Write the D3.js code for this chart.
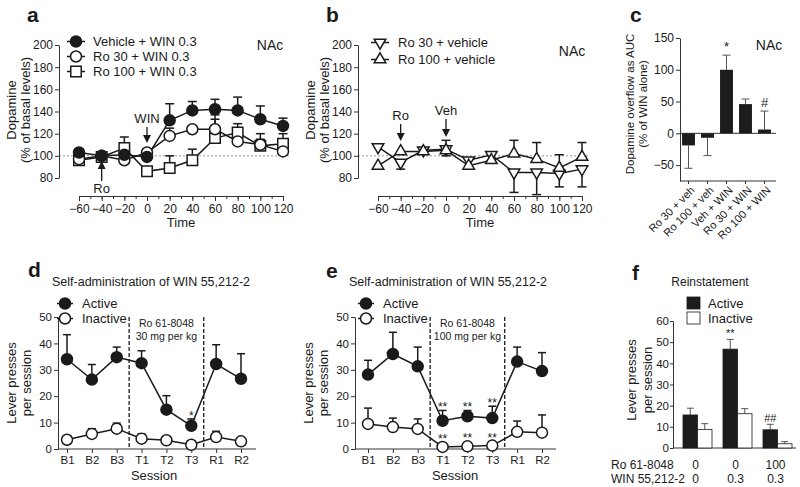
<!DOCTYPE html>
<html>
<head>
<meta charset="utf-8">
<script src="https://cdn.jsdelivr.net/npm/d3@7"></script>
<style>
  body { margin: 0; background: #fff; }
  svg { font-family: "Liberation Sans", Arial, sans-serif; }
  text { fill: #1a1a1a; }
</style>
</head>
<body>
<svg id="fig" width="800" height="487"></svg>
<script>
// ---- data ----
const timePoints = [-60, -40, -20, 0, 20, 40, 60, 80, 100, 120];
const timeTicks = [-60, -40, -20, 0, 20, 40, 60, 80, 100, 120];
const dopTicks = [80, 100, 120, 140, 160, 180, 200];

const vehWin = [103, 100, 101, 99, 132, 141, 142, 141, 133, 127];
const vehWinSem = [3, 2, 2, 2, 15, 8, 9, 12, 12, 7];
const ro30Win = [97, 100, 96, 103, 118, 124, 124, 113, 110, 104];
const ro30WinSem = [2, 2, 2, 2, 7, 2, 9, 3, 5, 2];
const ro100Win = [96, 99, 107, 86, 89, 96, 116, 121, 109, 111];
const ro100WinSem = [2, 2, 10, 2, 11, 10, 21, 8, 11, 9];

const ro30Veh = [108, 94, 105, 106, 96, 101, 85, 85, 84, 88];
const ro30VehSem = [2, 6, 2, 6, 2, 2, 18, 20, 12, 16];
const ro100Veh = [91, 104, 104, 105, 91, 96, 102, 97, 89, 99];
const ro100VehSem = [2, 2, 2, 9, 2, 2, 12, 15, 12, 13];

const aucGroups = ["Ro 30 + veh", "Ro 100 + veh", "Veh + WIN", "Ro 30 + WIN", "Ro 100 + WIN"];
const aucVals = [-19, -7, 100, 46, 6];
const aucSem = [36, 28, 23, 8, 29];
const aucSig = ["", "", "*", "", "#"];
const aucTicks = [-50, 0, 50, 100, 150];

const sessions = ["B1", "B2", "B3", "T1", "T2", "T3", "R1", "R2"];
const leverTicks = [0, 10, 20, 30, 40, 50];
const d30Active = [34, 26.3, 34.8, 32.5, 14.9, 8.8, 32.2, 26.6];
const d30ActiveSem = [9.3, 5.7, 3.8, 4.7, 5.3, 2.6, 7.3, 9.5];
const d30Inactive = [3.5, 5.7, 7.7, 3.9, 3.3, 1.6, 4.5, 2.9];
const d30InactiveSem = [0, 2, 2.1, 1.8, 0, 0, 2.2, 0];
const d30ActiveSig = ["", "", "", "", "", "*", "", ""];
const d30InactiveSig = ["", "", "", "", "", "", "", ""];

const e100Active = [28.2, 36, 31.3, 10.7, 12.4, 11.7, 33.1, 29.5];
const e100ActiveSem = [5.4, 8.2, 7.3, 3.9, 2.2, 4.5, 5.5, 7];
const e100Inactive = [9.5, 8.3, 7.6, 0.8, 1, 1.3, 6.5, 6.2];
const e100InactiveSem = [6, 3.4, 3.8, 0, 0, 0, 4.1, 6.7];
const e100ActiveSig = ["", "", "", "**", "**", "**", "", ""];
const e100InactiveSig = ["", "", "", "**", "**", "**", "", ""];

const reinGroups = ["g1", "g2", "g3"];
const reinActive = [15.6, 46.7, 8.6];
const reinActiveSem = [3.2, 4.6, 2.6];
const reinInactive = [8.8, 16.2, 2];
const reinInactiveSem = [2.7, 2.4, 1];
const reinActiveSig = ["", "**", "##"];
const reinRo = ["0", "0", "100"];
const reinWin = ["0", "0.3", "0.3"];
const reinTicks = [0, 10, 20, 30, 40, 50, 60];

// ---- helpers ----
const svg = d3.select("#fig");
const INK = "#1a1a1a";

function txt(g, x, y, s, size, anchor) {
    return g.append("text").attr("x", x).attr("y", y)
        .attr("text-anchor", anchor || "start")
        .style("font-size", size + "px").text(s);
}

function vtxt(g, x, y, s, size) {
    return g.append("text").attr("transform", `translate(${x},${y}) rotate(-90)`)
        .attr("text-anchor", "middle").style("font-size", size + "px").text(s);
}

function styleAxis(ax, size) {
    ax.selectAll("text").style("font-size", size + "px").attr("fill", INK);
    ax.selectAll("path, line").attr("stroke", "#333").attr("stroke-width", 1);
}

function yAxis(g, scale, x, ticks, size, tick, pad) {
    const ax = g.append("g").attr("transform", `translate(${x},0)`)
        .call(d3.axisLeft(scale).tickValues(ticks).tickSize(tick || 4).tickSizeOuter(0).tickPadding(pad == null ? 2 : pad));
    styleAxis(ax, size);
    return ax;
}

function errBar(g, x, yFrom, yTo, cap, color, width) {
    g.append("line").attr("x1", x).attr("x2", x).attr("y1", yFrom).attr("y2", yTo)
        .attr("stroke", color).attr("stroke-width", width);
    g.append("line").attr("x1", x - cap / 2).attr("x2", x + cap / 2).attr("y1", yTo).attr("y2", yTo)
        .attr("stroke", color).attr("stroke-width", width);
}

function marker(g, shape, x, y, fill) {
    const types = { circle: d3.symbolCircle, square: d3.symbolSquare, up: d3.symbolTriangle, down: d3.symbolTriangle };
    const sizes = { circle: 95, square: 110, up: 58, down: 58 };
    g.append("path")
        .attr("d", d3.symbol().type(types[shape]).size(sizes[shape])())
        .attr("transform", `translate(${x},${y})` + (shape === "down" ? " rotate(180)" : ""))
        .attr("fill", fill).attr("stroke", INK).attr("stroke-width", 1.5);
}

function arrowDown(g, x, y0, y1) {
    g.append("line").attr("x1", x).attr("x2", x).attr("y1", y0).attr("y2", y1 - 6)
        .attr("stroke", INK).attr("stroke-width", 1.3);
    g.append("path").attr("d", `M${x - 4},${y1 - 8}L${x + 4},${y1 - 8}L${x},${y1}Z`).attr("fill", INK);
}

function arrowUp(g, x, y0, y1) {
    g.append("line").attr("x1", x).attr("x2", x).attr("y1", y0).attr("y2", y1 + 6)
        .attr("stroke", INK).attr("stroke-width", 1.3);
    g.append("path").attr("d", `M${x - 4},${y1 + 8}L${x + 4},${y1 + 8}L${x},${y1}Z`).attr("fill", INK);
}

// panel letters
[["a", 27, 22], ["b", 326, 22], ["c", 630, 22], ["d", 28, 277], ["e", 326, 278], ["f", 632, 280]]
    .forEach(([l, x, y]) => txt(svg, x, y, l, 21, "start").style("font-weight", "bold"));

// ---- time course panels (a, b) ----
function timePanel(left, series, dashEnd) {
    const g = svg.append("g");
    const x = d3.scaleLinear().domain([-60, 120]).range([left + 20, left + 224]);
    const y = d3.scaleLinear().domain([80, 200]).range([178, 45]);

    g.append("line").attr("x1", left).attr("x2", left + dashEnd).attr("y1", y(100)).attr("y2", y(100))
        .attr("stroke", "#999").attr("stroke-dasharray", "2,2");

    yAxis(g, y, left, dopTicks, 12);
    const minor = g.append("g").attr("transform", "translate(0,196)")
        .call(d3.axisBottom(x).tickValues(d3.range(-60, 121, 10)).tickSize(3).tickSizeOuter(0).tickFormat(""));
    styleAxis(minor, 12);
    const major = g.append("g").attr("transform", "translate(0,196)")
        .call(d3.axisBottom(x).tickValues(timeTicks).tickSize(5).tickSizeOuter(0).tickPadding(3));
    styleAxis(major, 12);

    vtxt(g, left - 43, 110, "Dopamine", 13);
    vtxt(g, left - 29, 110, "(% of basal levels)", 13);
    txt(g, x(30), 227, "Time", 13, "middle");

    const line = d3.line().x((d, i) => x(timePoints[i])).y(d => y(d));
    series.forEach(s => {
        g.append("path").datum(s.vals).attr("d", line)
            .attr("fill", "none").attr("stroke", INK).attr("stroke-width", 1.5);
        s.vals.forEach((v, i) => {
            if (s.sem[i] > 2) {
                const end = s.dir === "down" ? v - s.sem[i] : v + s.sem[i];
                errBar(g, x(timePoints[i]), y(v), y(end), 9, INK, 1.5);
            }
        });
    });
    series.forEach(s => s.vals.forEach((v, i) => marker(g, s.shape, x(timePoints[i]), y(v), s.fill)));
    return { g, x, y };
}

const pa = timePanel(59, [
    { vals: ro100Win, sem: ro100WinSem, shape: "square", fill: "#fff", dir: "up" },
    { vals: ro30Win, sem: ro30WinSem, shape: "circle", fill: "#fff", dir: "up" },
    { vals: vehWin, sem: vehWinSem, shape: "circle", fill: INK, dir: "up" }
], 231);

[["Vehicle + WIN 0.3", "circle", INK, 46], ["Ro 30 + WIN 0.3", "circle", "#fff", 61], ["Ro 100 + WIN 0.3", "square", "#fff", 76]]
    .forEach(([label, shape, fill, yy]) => {
        pa.g.append("line").attr("x1", 67).attr("x2", 85).attr("y1", yy - 4.5).attr("y2", yy - 4.5)
            .attr("stroke", INK).attr("stroke-width", 1.5);
        marker(pa.g, shape, 76, yy - 4.5, fill);
        txt(pa.g, 93, yy, label, 13);
    });
txt(pa.g, 270, 50, "NAc", 14, "middle");
txt(pa.g, pa.x(0), 123, "WIN", 13, "middle");
arrowDown(pa.g, pa.x(0), 127, 143);
txt(pa.g, pa.x(-40), 193, "Ro", 13, "middle");
arrowUp(pa.g, pa.x(-40), 181, 161);

const pb = timePanel(358, [
    { vals: ro30Veh, sem: ro30VehSem, shape: "down", fill: "#fff", dir: "down" },
    { vals: ro100Veh, sem: ro100VehSem, shape: "up", fill: "#fff", dir: "up" }
], 232);

[["Ro 30 + vehicle", "down", 47], ["Ro 100 + vehicle", "up", 64]].forEach(([label, shape, yy]) => {
    pb.g.append("line").attr("x1", 371).attr("x2", 389).attr("y1", yy - 4.5).attr("y2", yy - 4.5)
        .attr("stroke", INK).attr("stroke-width", 1.5);
    marker(pb.g, shape, 380, yy - 4.5, "#fff");
    txt(pb.g, 398, yy, label, 13);
});
txt(pb.g, 572, 56, "NAc", 14, "middle");
txt(pb.g, pb.x(-40), 120, "Ro", 13, "middle");
arrowDown(pb.g, pb.x(-40), 124, 141);
txt(pb.g, pb.x(0), 115, "Veh", 13, "middle");
arrowDown(pb.g, pb.x(0), 119, 137);

// ---- panel c: AUC bars ----
{
    const g = svg.append("g");
    const y = d3.scaleLinear().domain([-75, 150]).range([181, 38]);
    const x = d3.scaleBand().domain(aucGroups).range([679, 774]).paddingInner(0.32).paddingOuter(0.16);
    yAxis(g, y, 680, aucTicks, 12);
    g.append("line").attr("x1", 680).attr("x2", 776).attr("y1", y(0)).attr("y2", y(0))
        .attr("stroke", "#333").attr("stroke-width", 1);
    const xa = g.append("g").attr("transform", "translate(0,181)")
        .call(d3.axisBottom(x).tickSize(3).tickSizeOuter(0).tickPadding(3));
    styleAxis(xa, 11);
    xa.select(".domain").attr("d", "M680,0H776");
    xa.selectAll(".tick text").attr("text-anchor", "end")
        .attr("transform", "translate(-2,1) rotate(-45)").attr("dy", "0.6em").attr("fill", "#333");

    aucVals.forEach((v, i) => {
        const cx = x(aucGroups[i]) + x.bandwidth() / 2;
        const end = v < 0 ? v - aucSem[i] : v + aucSem[i];
        errBar(g, cx, y(v), y(end), 8, "#555", 1);
        g.append("rect").attr("x", x(aucGroups[i])).attr("width", x.bandwidth())
            .attr("y", y(Math.max(0, v))).attr("height", Math.abs(y(v) - y(0)))
            .attr("fill", "#1c1c1c");
        if (aucSig[i]) txt(g, cx, y(end) - 4, aucSig[i], 13, "middle");
    });
    vtxt(g, 634, 104, "Dopamine overflow as AUC", 11.5);
    vtxt(g, 647, 104, "(% of WIN alone)", 11.5);
    txt(g, 769, 50, "NAc", 14, "middle");
}

// ---- panels d, e: self-administration ----
function sessionPanel(axisX, xr, axisEnd, act, actSem, actSig, inact, inactSem, inactSig, doseText, labelX) {
    const g = svg.append("g");
    const y = d3.scaleLinear().domain([0, 50]).range([449, 317]);
    const x = d3.scalePoint().domain(sessions).range(xr);
    yAxis(g, y, axisX, leverTicks, 11.5);
    const xa = g.append("g").attr("transform", "translate(0,449)")
        .call(d3.axisBottom(x).tickSize(4).tickSizeOuter(0).tickPadding(3));
    styleAxis(xa, 11.5);
    xa.select(".domain").attr("d", `M${axisX},0H${axisEnd}`);

    [(x("B3") + x("T1")) / 2, (x("T3") + x("R1")) / 2].forEach(xx => {
        g.append("line").attr("x1", xx).attr("x2", xx).attr("y1", y(50)).attr("y2", y(0))
            .attr("stroke", INK).attr("stroke-width", 1.3).attr("stroke-dasharray", "4,2");
    });
    const mid = (x("T1") + x("T3")) / 2;
    txt(g, mid, 327, "Ro 61-8048", 10.5, "middle").attr("fill", "#333");
    txt(g, mid, 340, doseText, 10.5, "middle").attr("fill", "#333");

    const line = d3.line().x((d, i) => x(sessions[i])).y(d => y(d));
    [[act, actSem, actSig], [inact, inactSem, inactSig]].forEach(([vals, sem, sig]) => {
        g.append("path").datum(vals).attr("d", line)
            .attr("fill", "none").attr("stroke", INK).attr("stroke-width", 1.5);
        vals.forEach((v, i) => {
            if (sem[i] > 0) errBar(g, x(sessions[i]), y(v), y(v + sem[i]), 8, INK, 1.5);
            if (sig[i]) txt(g, x(sessions[i]), Math.min(y(v + sem[i]) + 1, y(v) - 4), sig[i], 12, "middle");
        });
    });
    inact.forEach((v, i) => marker(g, "circle", x(sessions[i]), y(v), "#fff"));
    act.forEach((v, i) => marker(g, "circle", x(sessions[i]), y(v), INK));

    [["Active", INK, 308], ["Inactive", "#fff", 323]].forEach(([label, fill, yy]) => {
        g.append("line").attr("x1", labelX - 8).attr("x2", labelX + 8).attr("y1", yy - 4.5).attr("y2", yy - 4.5)
            .attr("stroke", INK).attr("stroke-width", 1.5);
        marker(g, "circle", labelX, yy - 4.5, fill);
        txt(g, labelX + 17, yy, label, 13);
    });
    vtxt(g, axisX - 42, 383, "Lever presses", 13);
    vtxt(g, axisX - 27, 383, "per session", 13);
    txt(g, (xr[0] + xr[1]) / 2, 480, "Session", 13, "middle");
    txt(g, axisX - 6, 286, "Self-administration of WIN 55,212-2", 12.5);
    return g;
}

sessionPanel(58, [67, 241], 256, d30Active, d30ActiveSem, d30ActiveSig,
    d30Inactive, d30InactiveSem, d30InactiveSig, "30 mg per kg", 65);
sessionPanel(355, [368, 542], 556, e100Active, e100ActiveSem, e100ActiveSig,
    e100Inactive, e100InactiveSem, e100InactiveSig, "100 mg per kg", 366);

// ---- panel f: reinstatement ----
{
    const g = svg.append("g");
    const y = d3.scaleLinear().domain([0, 60]).range([448, 321]);
    const x = d3.scaleBand().domain(reinGroups).range([683, 792]).paddingInner(0.275);
    const sub = d3.scaleBand().domain(["Active", "Inactive"]).range([0, x.bandwidth()]);
    yAxis(g, y, 673, reinTicks, 11.5, 3, 1);
    g.append("line").attr("x1", 673).attr("x2", 796).attr("y1", y(0)).attr("y2", y(0))
        .attr("stroke", "#333");

    const bars = [["Active", reinActive, reinActiveSem, "#1c1c1c"], ["Inactive", reinInactive, reinInactiveSem, "#fff"]];
    bars.forEach(([key, vals, sem, fill]) => {
        vals.forEach((v, i) => {
            const bx = x(reinGroups[i]) + sub(key);
            errBar(g, bx + sub.bandwidth() / 2, y(v), y(v + sem[i]), 7, "#555", 1);
            g.append("rect").attr("x", bx).attr("width", sub.bandwidth())
                .attr("y", y(v)).attr("height", y(0) - y(v))
                .attr("fill", fill).attr("stroke", INK).attr("stroke-width", 0.8);
        });
    });
    reinActiveSig.forEach((s, i) => {
        if (!s) return;
        const cx = x(reinGroups[i]) + sub("Active") + sub.bandwidth() / 2;
        txt(g, cx, y(reinActive[i] + reinActiveSem[i]) - 2, s, 11, "middle");
    });
    reinGroups.forEach((k, i) => {
        const cx = x(k) + x.bandwidth() / 2 - 2;
        txt(g, cx, 469, reinRo[i], 12, "middle");
        txt(g, cx, 483, reinWin[i], 12, "middle");
    });
    txt(g, 611, 469, "Ro 61-8048", 12);
    txt(g, 611, 483, "WIN 55,212-2", 12);

    [["Active", "#1c1c1c", 308], ["Inactive", "#fff", 323]].forEach(([label, fill, yy]) => {
        g.append("rect").attr("x", 687).attr("y", yy - 11).attr("width", 13).attr("height", 12)
            .attr("fill", fill).attr("stroke", INK).attr("stroke-width", 0.8);
        txt(g, 708, yy, label, 13);
    });
    txt(g, 710, 286, "Reinstatement", 12, "middle");
    vtxt(g, 636, 380, "Lever presses", 13);
    vtxt(g, 652, 380, "per session", 13);
}
</script>
</body>
</html>
